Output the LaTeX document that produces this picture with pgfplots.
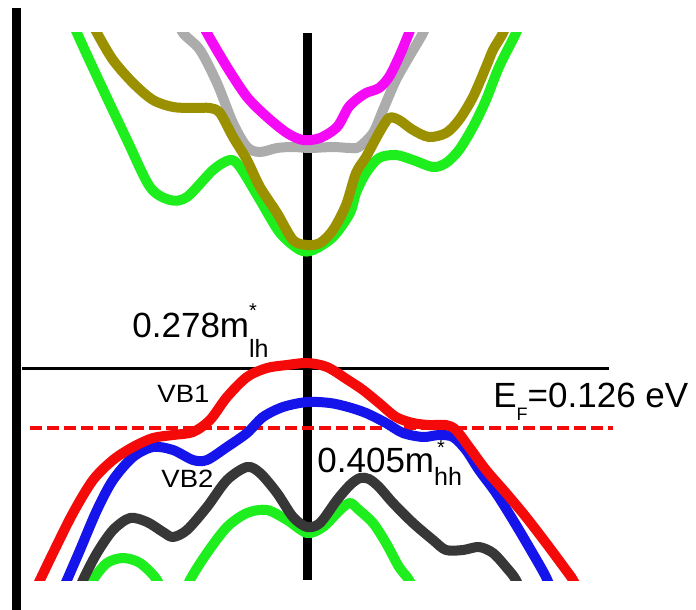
\documentclass[border=0pt]{standalone}
\usepackage{pgfplots}
\pgfplotsset{compat=1.18}
\usepackage{fontspec}
\setmainfont{Liberation Sans}
\definecolor{cred}{RGB}{245,10,10}
\definecolor{cblue}{RGB}{20,20,235}
\definecolor{cdark}{RGB}{55,55,55}
\definecolor{cgreen}{RGB}{30,238,30}
\definecolor{colive}{RGB}{154,144,0}
\definecolor{cgray}{RGB}{172,172,172}
\definecolor{cmag}{RGB}{245,10,245}
\begin{document}
\begin{tikzpicture}
% frame axis: pixel coordinates, y downwards
\begin{axis}[scale only axis, width=348pt, height=305pt,
  xmin=0, xmax=696, ymin=0, ymax=610, y dir=reverse,
  hide axis, clip=false]
\addplot[black, line width=4.5pt] coordinates {(16,8) (16,610)};
\addplot[black, line width=4.5pt] coordinates {(307,33) (307,580)};
\addplot[black, line width=1.5pt] coordinates {(22,368) (609,368)};
\addplot[cred, line width=2pt, dash pattern=on 6pt off 2.5pt] coordinates {(30,428) (613,428)};
\end{axis}
% band axis: clipped between y=33 and y=580
\begin{axis}[scale only axis, width=348pt, height=273.5pt, at={(0pt,15pt)},
  xmin=0, xmax=696, ymin=33, ymax=580, y dir=reverse,
  hide axis, clip mode=individual,
  every axis plot/.append style={line width=5pt, smooth, line join=round, line cap=round}]
% conduction bands
\addplot[cgreen] coordinates {(70,15) (77,33) (100,83) (127,140) (150,187) (170,200) (187,197) (213,170) (230,160) (240,167) (260,200) (280,233) (300,250) (313,250) (333,237) (350,213) (356,193) (366,173) (379,158) (396,155) (413,160) (433,167) (446,163) (459,150) (473,127) (486,100) (499,67) (516,33) (523,15)};
\addplot[cgray] coordinates {(175,15) (183,33) (200,50) (217,83) (233,123) (247,147) (260,152) (277,148) (293,147) (310,148) (333,147) (350,148) (359,147) (373,133) (383,110) (396,80) (409,57) (423,33) (430,15)};
\addplot[colive] coordinates {(88,15) (97,33) (113,60) (133,83) (153,100) (173,107) (193,108) (210,108) (220,113) (233,137) (247,160) (260,187) (277,213) (293,240) (307,245) (320,243) (333,230) (346,205) (356,173) (366,157) (379,133) (389,118) (399,120) (413,130) (429,137) (446,133) (459,120) (473,97) (486,67) (493,50) (503,33) (510,15)};
\addplot[cmag] coordinates {(198,15) (207,33) (227,67) (247,97) (267,117) (287,133) (303,140) (320,138) (337,127) (348,108) (356,100) (366,93) (379,88) (389,77) (399,57) (409,33) (415,15)};
% valence bands
\addplot[cgreen] coordinates {(85,600) (93,580) (107,563) (123,558) (140,563) (157,580) (168,605) (180,605) (190,580) (207,553) (227,527) (247,513) (267,510) (287,520) (307,533) (323,527) (340,510) (350,503) (359,510) (373,523) (386,543) (399,567) (409,580) (418,600)};
\addplot[cdark] coordinates {(75,600) (83,580) (97,553) (113,530) (130,518) (147,522) (163,532) (173,537) (187,530) (207,507) (227,480) (247,467) (260,473) (277,493) (293,517) (307,527) (320,523) (337,500) (350,485) (360,478) (369,479) (379,487) (393,503) (413,523) (433,540) (446,550) (463,550) (479,547) (493,553) (506,567) (516,580) (524,600)};
\addplot[cblue] coordinates {(58,600) (67,580) (80,550) (97,510) (113,480) (133,457) (153,447) (173,450) (193,460) (207,460) (227,447) (247,433) (263,417) (283,407) (307,402) (330,403) (348,407) (366,413) (386,423) (403,433) (423,437) (439,435) (453,437) (466,450) (479,470) (496,493) (513,520) (529,547) (546,577) (555,600)};
\addplot[cred] coordinates {(30,600) (40,580) (53,553) (73,513) (93,480) (113,460) (133,447) (153,438) (173,435) (193,432) (210,420) (227,397) (247,377) (267,368) (287,365) (307,363) (327,367) (348,380) (363,390) (379,403) (396,417) (413,423) (429,425) (446,425) (456,430) (469,447) (486,470) (506,493) (526,517) (546,543) (566,570) (573,580) (583,600)};
% labels
\node[anchor=base west, inner sep=0pt] at (axis cs:132,337) {\fontsize{17.5}{20}\selectfont 0.278m\rlap{\raisebox{10pt}{\fontsize{10}{10}\selectfont *}}\raisebox{-10pt}{\fontsize{12.5}{13}\selectfont lh}};
\node[anchor=base west, inner sep=0pt] at (axis cs:317,472) {\fontsize{17.5}{20}\selectfont 0.405m\rlap{\kern1.5pt\raisebox{9pt}{\fontsize{10}{10}\selectfont *}}\raisebox{-6.5pt}{\fontsize{12.5}{13}\selectfont hh}};
\node[anchor=base west, inner sep=0pt] at (axis cs:493,407) {\fontsize{17.5}{20}\selectfont E\raisebox{-6.5pt}{\fontsize{9}{9}\selectfont F}=0.126 eV};
\node[anchor=base west, inner sep=0pt, xscale=1.1] at (axis cs:157,402) {\fontsize{12.5}{13}\selectfont VB1};
\node[anchor=base west, inner sep=0pt, xscale=1.1] at (axis cs:161,487) {\fontsize{12.5}{13}\selectfont VB2};
\end{axis}
\pgfresetboundingbox
\path[use as bounding box] (0pt,0pt) rectangle (348pt,305pt);
\end{tikzpicture}
\end{document}
